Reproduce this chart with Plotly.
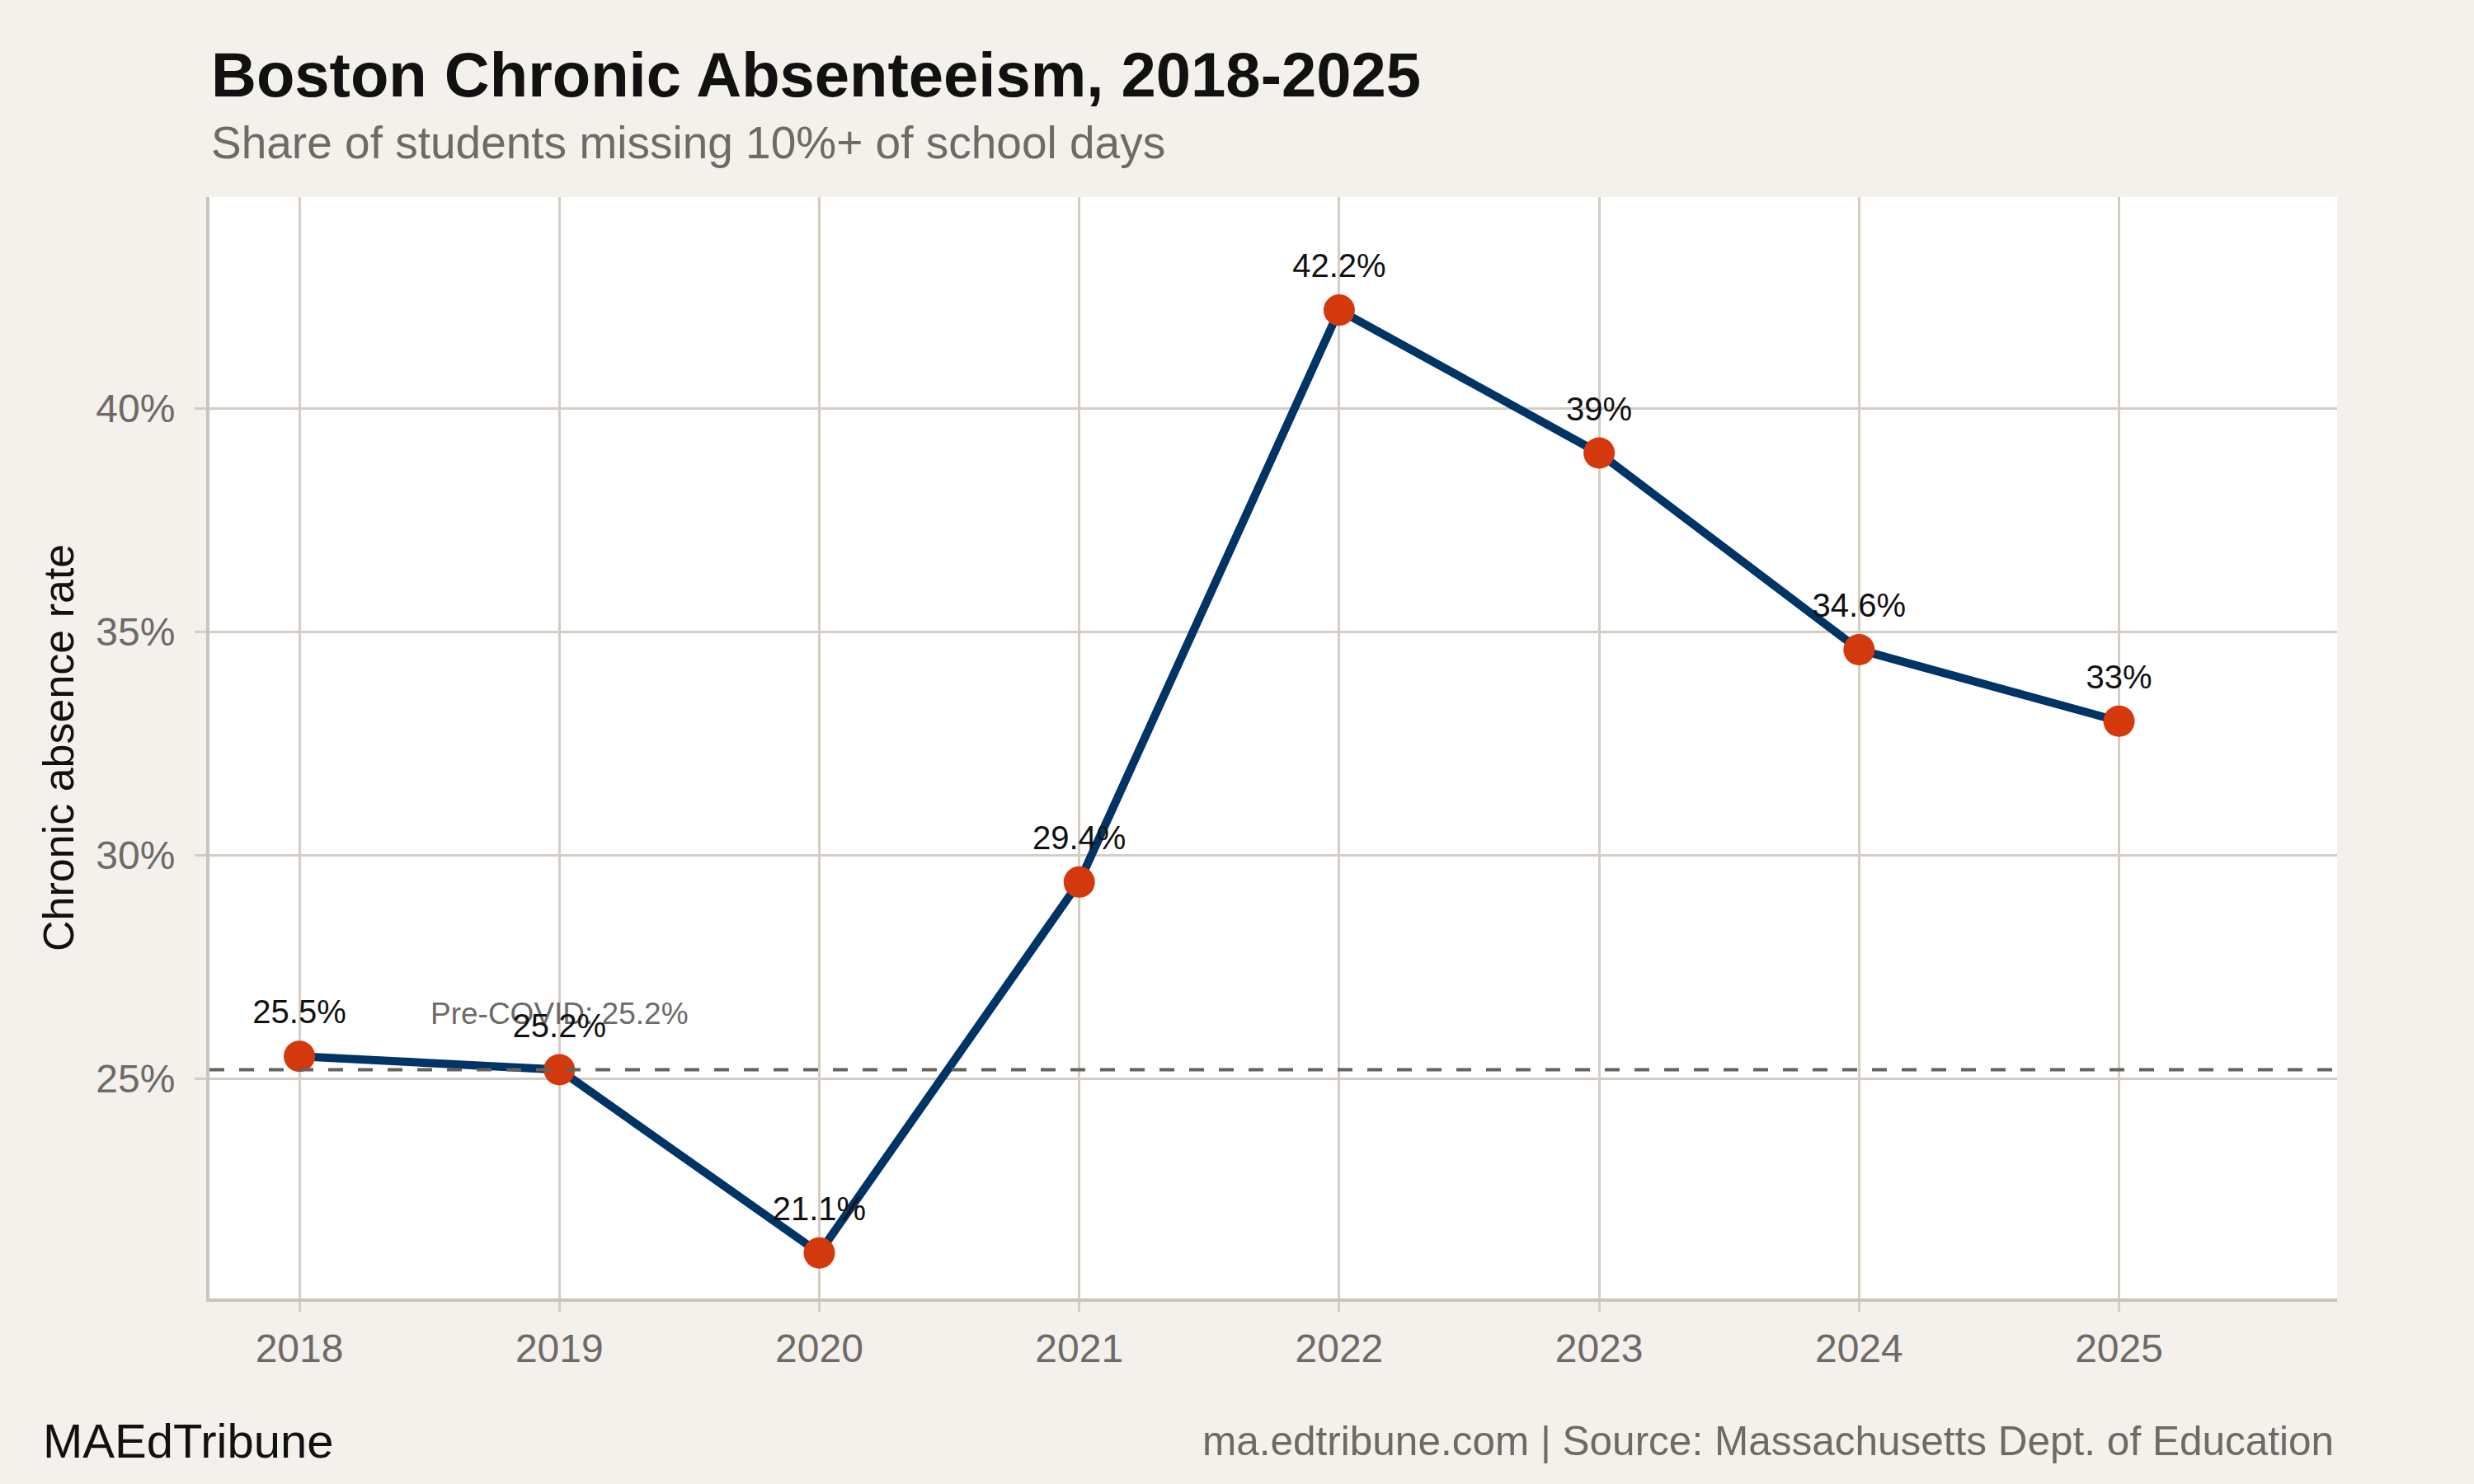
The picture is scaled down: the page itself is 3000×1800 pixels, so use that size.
import plotly.graph_objects as go

years = [2018, 2019, 2020, 2021, 2022, 2023, 2024, 2025]
rates = [25.5, 25.2, 21.1, 29.4, 42.2, 39.0, 34.6, 33.0]
rate_labels = ["25.5%", "25.2%", "21.1%", "29.4%", "42.2%", "39%", "34.6%", "33%"]
pre_covid = 25.2
pre_covid_label = "Pre-COVID: 25.2%"
y_ticks = [25, 30, 35, 40]
y_tick_labels = ["25%", "30%", "35%", "40%"]

W, H = 3000, 1800
ML, MR, MT, MB = 254, 166, 239, 225
PW, PH = W - ML - MR, H - MT - MB

def py(p):
    return (H - MB - p) / PH

def px(p):
    return (p - ML) / PW

FONT = "Liberation Sans"
GRID = "#d3cdc4"
GRAY = "#6e6a66"
BG = "#f4f1ec"
NAVY = "#003366"
ORANGE = "#d4380d"

fig = go.Figure()

fig.add_trace(go.Scatter(
    x=years, y=rates, mode="lines",
    line=dict(color=NAVY, width=10),
    hoverinfo="skip", showlegend=False,
))
fig.add_trace(go.Scatter(
    x=years, y=rates, mode="markers",
    marker=dict(color=ORANGE, size=38, line=dict(width=0)),
    showlegend=False,
))
fig.add_trace(go.Scatter(
    x=[2019], y=[pre_covid + 1.2], mode="text",
    text=[pre_covid_label], textposition="middle center",
    textfont=dict(family=FONT, size=37, color=GRAY),
    showlegend=False, hoverinfo="skip",
))
fig.add_trace(go.Scatter(
    x=years, y=[r + 0.92 for r in rates], mode="text",
    text=rate_labels, textposition="middle center",
    textfont=dict(family=FONT, size=40, color="#111111"),
    showlegend=False, hoverinfo="skip",
))

fig.add_shape(type="line", xref="paper", x0=0, x1=1, y0=pre_covid, y1=pre_covid,
              line=dict(color="#66625e", width=4, dash="18px,18px"), layer="above")

fig.update_layout(
    width=W, height=H,
    margin=dict(l=ML, r=MR, t=MT, b=MB),
    paper_bgcolor=BG, plot_bgcolor="white",
    font=dict(family=FONT),
    xaxis=dict(
        range=[2017.654, 2025.839], tickvals=years, ticktext=[str(y) for y in years],
        showgrid=True, gridcolor=GRID, gridwidth=2.5,
        showline=True, linecolor="#cbc4ba", linewidth=4,
        ticks="outside", ticklen=12, tickwidth=2.5, tickcolor=GRID,
        tickfont=dict(family=FONT, size=48, color=GRAY),
        ticklabelstandoff=3,
        zeroline=False,
    ),
    yaxis=dict(
        range=[20.08, 44.73], tickvals=y_ticks, ticktext=y_tick_labels,
        showgrid=True, gridcolor=GRID, gridwidth=2.5,
        showline=True, linecolor="#cbc4ba", linewidth=4,
        ticks="outside", ticklen=14, tickwidth=2.5, tickcolor=GRID,
        tickfont=dict(family=FONT, size=48, color=GRAY),
        ticklabelstandoff=14,
        zeroline=False,
    ),
    annotations=[
        dict(text="<b>Boston Chronic Absenteeism, 2018-2025</b>", xref="paper", yref="paper",
             x=0, y=py(90), xanchor="left", yanchor="middle", showarrow=False,
             font=dict(family=FONT, size=76, color="#111111")),
        dict(text="Share of students missing 10%+ of school days", xref="paper", yref="paper",
             x=0, y=py(173), xanchor="left", yanchor="middle", showarrow=False,
             font=dict(family=FONT, size=55, color=GRAY)),
        dict(text="Chronic absence rate", xref="paper", yref="paper",
             x=px(71), y=0.5, xanchor="center", yanchor="middle", showarrow=False,
             textangle=-90, font=dict(family=FONT, size=52, color="#111111")),
        dict(text="MAEdTribune", xref="paper", yref="paper",
             x=px(50), y=py(1747), xanchor="left", yanchor="middle", showarrow=False,
             font=dict(family=FONT, size=58, color="#111111")),
        dict(text="ma.edtribune.com | Source: Massachusetts Dept. of Education", xref="paper", yref="paper",
             x=px(2832), y=py(1747), xanchor="right", yanchor="middle", showarrow=False,
             font=dict(family=FONT, size=49.5, color=GRAY)),
    ],
)

fig.write_html("out.html")
